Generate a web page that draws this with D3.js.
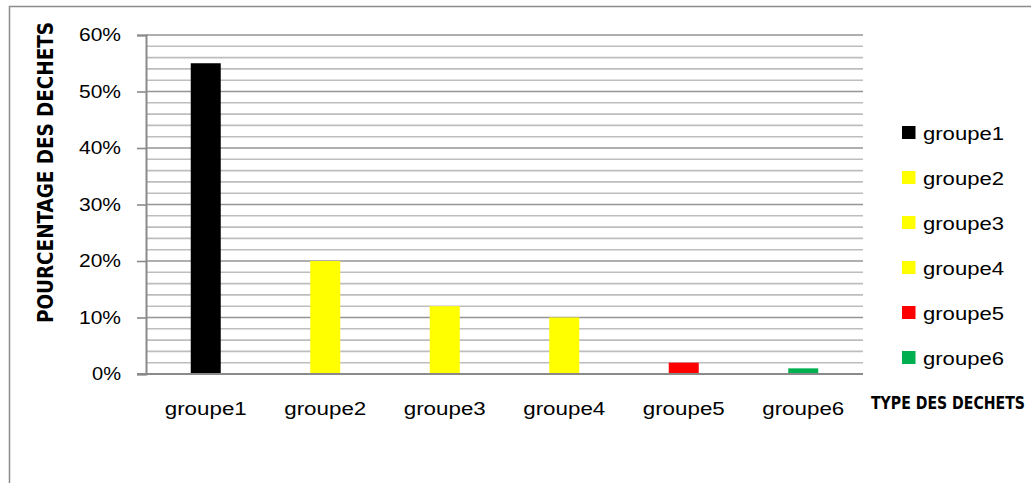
<!DOCTYPE html>
<html>
<head>
<meta charset="utf-8">
<script src="https://cdn.jsdelivr.net/npm/d3@7"></script>
<style>
  html, body { margin: 0; padding: 0; background: #fff; }
  svg { display: block; }
</style>
</head>
<body>
<svg id="chart" width="1031" height="483"></svg>
<script>
const categories = ["groupe1", "groupe2", "groupe3", "groupe4", "groupe5", "groupe6"];
const values = [0.55, 0.20, 0.12, 0.10, 0.02, 0.01];
const colors = ["#000000", "#FFFF00", "#FFFF00", "#FFFF00", "#FF0000", "#00B050"];
const yTicks = [0, 0.1, 0.2, 0.3, 0.4, 0.5, 0.6];
const yMinorTicks = d3.range(0, 0.6001, 0.02);
const yTitle = "POURCENTAGE DES DECHETS";
const xTitle = "TYPE DES DECHETS";

const svg = d3.select("#chart");
const W = 1031, H = 483;
const plot = { left: 146, right: 863, top: 35, bottom: 374 };
const font = "'Liberation Sans', Arial, sans-serif";
const narrowBold = "'Liberation Sans Narrow', 'DejaVu Sans Condensed', 'Liberation Sans', sans-serif";

// outer chart border
svg.append("rect")
  .attr("x", 9.5).attr("y", 6.5)
  .attr("width", 1200).attr("height", 800)
  .attr("fill", "none").attr("stroke", "#8c8c8c").attr("stroke-width", 1.5);

const x = d3.scaleBand().domain(categories).range([plot.left, plot.right]);
const y = d3.scaleLinear().domain([0, 0.6]).range([plot.bottom, plot.top]);

// minor gridlines
svg.append("g").selectAll("line")
  .data(yMinorTicks.filter(v => Math.round(v * 100) % 10 !== 0))
  .join("line")
  .attr("x1", plot.left).attr("x2", plot.right)
  .attr("y1", d => y(d)).attr("y2", d => y(d))
  .attr("stroke", "#bdbdbd").attr("stroke-width", 1.6);

// major gridlines
svg.append("g").selectAll("line")
  .data(yTicks.filter(v => v > 0))
  .join("line")
  .attr("x1", plot.left).attr("x2", plot.right)
  .attr("y1", d => y(d)).attr("y2", d => y(d))
  .attr("stroke", "#959595").attr("stroke-width", 1.6);

// bars
const barW = 30;
svg.append("g").selectAll("rect")
  .data(categories.map((c, i) => ({ c, v: values[i], col: colors[i] })))
  .join("rect")
  .attr("x", d => x(d.c) + x.bandwidth() / 2 - barW / 2)
  .attr("width", barW)
  .attr("y", d => y(d.v))
  .attr("height", d => y(0) - y(d.v))
  .attr("fill", d => d.col);

// y axis
const yAxis = svg.append("g")
  .attr("transform", `translate(${plot.left},0)`)
  .call(d3.axisLeft(y).tickValues(yTicks).tickFormat(d3.format(".0%")).tickSize(9).tickPadding(16));
yAxis.select(".domain").attr("stroke", "#8a8a8a").attr("stroke-width", 2);
yAxis.selectAll(".tick line").attr("stroke", "#8a8a8a").attr("stroke-width", 1.6);
yAxis.selectAll(".tick text")
  .attr("font-family", font).attr("font-size", 18).attr("fill", "#000")
  .attr("textLength", d => d === 0 ? 29 : 42)
  .attr("lengthAdjust", "spacingAndGlyphs");

// x axis baseline
svg.append("line")
  .attr("x1", plot.left - 9).attr("x2", plot.right)
  .attr("y1", y(0)).attr("y2", y(0))
  .attr("stroke", "#8a8a8a").attr("stroke-width", 2);

// x labels
svg.append("g").selectAll("text")
  .data(categories)
  .join("text")
  .attr("x", d => x(d) + x.bandwidth() / 2)
  .attr("y", 415)
  .attr("text-anchor", "middle")
  .attr("font-family", font).attr("font-size", 18).attr("fill", "#000")
  .attr("textLength", 82).attr("lengthAdjust", "spacingAndGlyphs")
  .text(d => d);

// y title
svg.append("text")
  .attr("transform", "translate(53,172.5) rotate(-90)")
  .attr("text-anchor", "middle")
  .attr("font-family", narrowBold).attr("font-weight", "bold").attr("font-size", 22)
  .attr("textLength", 301).attr("lengthAdjust", "spacingAndGlyphs")
  .attr("fill", "#000")
  .text(yTitle);

// x title
svg.append("text")
  .attr("x", 871).attr("y", 409)
  .attr("font-family", narrowBold).attr("font-weight", "bold").attr("font-size", 17.5)
  .attr("textLength", 154).attr("lengthAdjust", "spacingAndGlyphs")
  .attr("fill", "#000")
  .text(xTitle);

// legend
const legend = svg.append("g").selectAll("g")
  .data(categories.map((c, i) => ({ c, col: colors[i], i })))
  .join("g")
  .attr("transform", d => `translate(902,${126 + d.i * 45})`);
legend.append("rect")
  .attr("width", 13.5).attr("height", 13)
  .attr("fill", d => d.col);
legend.append("text")
  .attr("x", 21).attr("y", 14)
  .attr("font-family", font).attr("font-size", 18).attr("fill", "#000")
  .attr("textLength", 81).attr("lengthAdjust", "spacingAndGlyphs")
  .text(d => d.c);
</script>
</body>
</html>
